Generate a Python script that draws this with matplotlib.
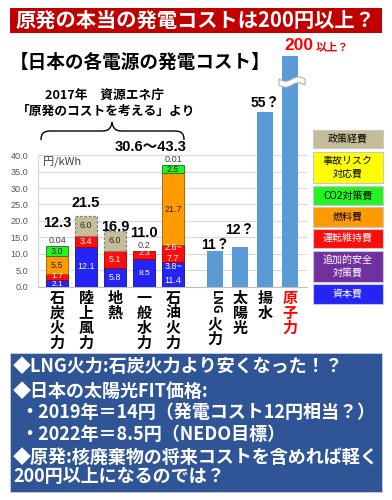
import numpy as np
import matplotlib
matplotlib.use("Agg")
import matplotlib.pyplot as plt
from matplotlib.patches import Rectangle, PathPatch, Polygon
from matplotlib.path import Path
import matplotlib.transforms as mtransforms

plt.rcParams['font.family'] = ['Noto Sans CJK JP', 'DejaVu Sans']

# ---------------- data ----------------
left_categories = ["石炭火力", "陸上風力", "地熱", "一般水力", "石油火力"]
capital_low = [2.1, 12.1, 5.8, 8.5, 3.8]
capital_high = [2.1, 12.1, 5.8, 8.5, 11.4]
om_low = [1.7, 3.4, 5.1, 2.3, 2.6]
om_high = [1.7, 3.4, 5.1, 2.3, 7.7]
fuel = [5.5, 0.0, 0.0, 0.0, 21.7]
co2 = [3.0, 0.0, 0.0, 0.0, 2.5]
policy = [0.04, 6.0, 6.0, 0.2, 0.01]

right_categories = ["LNG火力", "太陽光", "揚水", "原子力"]
right_values = [11, 12, 53, 200]
right_labels = ["11？", "12？", "55？", None]

yticks = [0, 5, 10, 15, 20, 25, 30, 35, 40]

legend_labels = ["政策経費", "事故リスク\n対応費", "CO2対策費", "燃料費",
                 "運転維持費", "追加的安全\n対策費", "資本費"]

# ---------------- style ----------------
C_CAP = "#2424F5"
C_OM = "#FF0D0D"
C_FUEL = "#FF9A00"
C_CO2 = "#22F522"
C_ACC = "#FFFF00"
C_ADD = "#7030A0"
C_POL = "#C4BD97"
C_RIGHT = "#5B9BD5"
legend_colors = [C_POL, C_ACC, C_CO2, C_FUEL, C_OM, C_ADD, C_CAP]
legend_text_colors = ["black", "black", "black", "black", "white", "white", "white"]
legend_boxes = [(130, 148), (152, 183), (186, 205), (207, 227), (229, 248), (251, 282), (284, 304)]

NUM = ['Liberation Sans', 'Noto Sans CJK JP']
CJK = ['Noto Sans CJK JP', 'DejaVu Sans']

fig = plt.figure(figsize=(3.92, 5.0), dpi=100)
fig.patch.set_facecolor("white")

ax_left, ax_right_px, ax_bottom_px, ax_top_px = 38, 307, 286.7, 56.4
ax = fig.add_axes([ax_left / 392, 1 - ax_bottom_px / 500,
                   (ax_right_px - ax_left) / 392, (ax_bottom_px - ax_top_px) / 500])
ax.set_ylim(0, 70)
ax.set_xlim(-0.66, 8.62)

xl = np.arange(len(left_categories), dtype=float)
xr = 5.45 + 0.86 * np.arange(len(right_categories))
wl, wr = 0.76, 0.55

cap_mid = (np.array(capital_low) + np.array(capital_high)) / 2
om_mid = (np.array(om_low) + np.array(om_high)) / 2
fuel_a = np.array(fuel)
co2_a = np.array(co2)
pol_a = np.array(policy)

b0 = np.zeros(len(xl))
ax.bar(xl, cap_mid, wl, bottom=b0, color=C_CAP, edgecolor="#10108A", lw=0.6, zorder=3)
b1 = b0 + cap_mid
ax.bar(xl, om_mid, wl, bottom=b1, color=C_OM, edgecolor="#9A0000", lw=0.6, zorder=3)
b2 = b1 + om_mid
fmask = fuel_a > 0
ax.bar(xl[fmask], fuel_a[fmask], wl, bottom=b2[fmask], color=C_FUEL, edgecolor="#9A5A00", lw=0.6, zorder=3)
b3 = b2 + fuel_a
cmask = co2_a > 0
ax.bar(xl[cmask], co2_a[cmask], wl, bottom=b3[cmask], color=C_CO2, edgecolor="#107A10", lw=0.6, zorder=3)
b4 = b3 + co2_a
pmask = pol_a >= 1
ax.bar(xl[pmask], pol_a[pmask], wl, bottom=b4[pmask], color=C_POL, edgecolor="#7F7F7F",
       lw=0.9, linestyle=(0, (2, 1.5)), zorder=3)
tops = b4 + pol_a

# segment labels
def seg_label(x, y, s, color, size=6.4):
    ax.text(x, y, s, ha="center", va="center", fontsize=size, color=color,
            family=NUM, zorder=4)

dark = "#262626"
for i in range(len(xl)):
    if capital_low[i] == capital_high[i]:
        small = om_mid[i] < 2.5
        sz = 6.0 if small else 6.4
        seg_label(xl[i], cap_mid[i] / 2 - (0.25 if small else 0), f"{capital_low[i]}", "white", sz)
        seg_label(xl[i], b1[i] + om_mid[i] / 2 + (0.3 if small else 0), f"{om_low[i]}", "white", sz)
    else:
        seg_label(xl[i], cap_mid[i] * 0.79, f"{capital_low[i]}~", "white")
        seg_label(xl[i], cap_mid[i] * 0.26, f"{capital_high[i]}", "white")
        seg_label(xl[i], b1[i] + om_mid[i] * 0.82, f"{om_low[i]}~", "white")
        seg_label(xl[i], b1[i] + om_mid[i] * 0.2, f"{om_high[i]}", "white")
    if fuel[i] > 0:
        seg_label(xl[i], b2[i] + fuel[i] / 2, f"{fuel[i]}", dark)
    if co2[i] > 0:
        seg_label(xl[i], b3[i] + co2[i] / 2, f"{co2[i]}", dark)
    if policy[i] >= 1:
        seg_label(xl[i], b4[i] + policy[i] / 2, f"{policy[i]}", dark)
    else:
        ax.text(xl[i], tops[i] + 1.6, f"{policy[i]}", ha="center", va="center",
                fontsize=6.6, color="#404040", family=NUM, zorder=4)

# totals
low_tot = np.array(capital_low) + np.array(om_low) + fuel_a + co2_a + pol_a
high_tot = np.array(capital_high) + np.array(om_high) + fuel_a + co2_a + pol_a
total_offsets = [7.1, 3.8, 1.3, 5.3, 5.5]
for i in range(len(xl)):
    if abs(low_tot[i] - high_tot[i]) < 1e-9:
        ax.text(xl[i], tops[i] + total_offsets[i], f"{low_tot[i]:.1f}", ha="center",
                va="center", fontsize=10.5, weight="bold", family=NUM, zorder=4)
    else:
        ax.text(xl[i] + wl / 2 + 0.08, tops[i] + total_offsets[i],
                f"{low_tot[i]:.1f}～{high_tot[i]:.1f}", ha="right", va="center",
                fontsize=10.5, weight="bold", family=NUM, zorder=4)

# right bars
ax.bar(xr, right_values, wr, color=C_RIGHT, lw=0, zorder=3)
right_offsets = [1.7, 5.2, 2.8]
for i, lab in enumerate(right_labels):
    if lab:
        ax.text(xr[i], right_values[i] + right_offsets[i], lab, ha="center", va="center",
                fontsize=10, weight="bold", family=NUM, zorder=4)

# axes styling
ax.set_yticks(yticks)
ax.set_yticklabels([f"{v:.1f}" for v in yticks], fontsize=6.6, color="#595959", family=NUM)
ax.tick_params(axis="y", length=0, pad=7)
ax.set_xticks([])
ax.yaxis.grid(True, color="#D9D9D9", lw=0.8)
ax.set_axisbelow(True)
for s in ["top", "right"]:
    ax.spines[s].set_visible(False)
ax.spines["left"].set_bounds(0, 40)
ax.spines["left"].set_color("#D9D9D9")
ax.spines["left"].set_linewidth(0.8)
ax.spines["bottom"].set_color("#BFBFBF")
ax.spines["bottom"].set_linewidth(0.8)
ax.patch.set_alpha(0)
ax.text(0.02, 0.94 * 40 / 70 + 0.005, "円/kWh", transform=ax.transAxes, fontsize=8,
        color="#404040", va="center", ha="left")

# ---------------- overlay ----------------
ov = fig.add_axes([0, 0, 1, 1], zorder=5)
ov.set_xlim(0, 392)
ov.set_ylim(500, 0)
ov.axis("off")
ov.set_facecolor("none")

# title banner
ov.add_patch(Rectangle((10, 8), 372, 25, color="#C00000", lw=0))
ov.text(196, 20.5, "原発の本当の発電コストは200円以上？", ha="center", va="center",
        color="white", fontsize=14.6, weight="bold", family=CJK)

ov.text(10, 62, "【日本の各電源の発電コスト】", ha="left", va="center",
        fontsize=13.4, weight="bold", family=CJK)
ov.text(105, 95, "2017年　資源エネ庁", ha="center", va="center",
        fontsize=9.2, weight="bold", family=CJK)
ov.text(106, 111.5, "「原発のコストを考える」より", ha="center", va="center",
        fontsize=9.2, weight="bold", family=CJK)

# brace
verts = [(41, 140), (41, 133), (44, 131), (51, 131), (102, 131),
         (108, 131), (111, 129), (112, 122),
         (113, 129), (116, 131), (122, 131), (174, 131),
         (181, 131), (184, 133), (184, 140)]
codes = [Path.MOVETO, Path.CURVE4, Path.CURVE4, Path.CURVE4, Path.LINETO,
         Path.CURVE4, Path.CURVE4, Path.CURVE4,
         Path.CURVE4, Path.CURVE4, Path.CURVE4, Path.LINETO,
         Path.CURVE4, Path.CURVE4, Path.CURVE4]
ov.add_patch(PathPatch(Path(verts, codes), fill=False, lw=1.0, color="black"))

# 200 label
ov.text(313, 50, "200", ha="right", va="baseline", color="#FF0000", fontsize=12.5,
        weight="bold", family=NUM)
ov.text(316, 50, "以上？", ha="left", va="baseline", color="#FF0000", fontsize=8,
        weight="bold", family=CJK)

# break squiggle on 原子力 bar
xs = np.linspace(279, 305, 40)
top_y = 79 + 2.2 * np.sin((xs - 279) / 26 * 2 * np.pi)
bot_y = top_y + 6
poly = np.vstack([np.column_stack([xs, top_y]), np.column_stack([xs[::-1], bot_y[::-1]])])
ov.add_patch(Polygon(poly, closed=True, facecolor="white", edgecolor="#A6A6A6", lw=0.7))

# x labels (vertical text)
trans = mtransforms.blended_transform_factory(ax.transData, ov.transData)

def vertical_label(x, name, color):
    y = 290
    i = 0
    while i < len(name):
        ch = name[i]
        if ch.isascii():
            j = i
            while j < len(name) and name[j].isascii():
                j += 1
            run = name[i:j]
            h = 8.5 * len(run)
            ov.text(x, y + h / 2, run, transform=trans, rotation=-90, ha="center",
                    va="center", fontsize=8.6, weight="bold", color=color, family=CJK)
            y += h + 1
            i = j
        else:
            ov.text(x, y + 7.5, ch, transform=trans, ha="center", va="center",
                    fontsize=10.8, weight="bold", color=color, family=CJK)
            y += 15
            i += 1

for i, name in enumerate(left_categories):
    vertical_label(xl[i], name, "black")
for i, name in enumerate(right_categories):
    vertical_label(xr[i], name, "#FF0000" if name == "原子力" else "black")

# legend boxes
for lab, col, tcol, (y0, y1) in zip(legend_labels, legend_colors, legend_text_colors, legend_boxes):
    ov.add_patch(Rectangle((313, y0), 70, y1 - y0, facecolor=col, edgecolor="#C8C8C8", lw=0.8))
    ov.text(348, (y0 + y1) / 2, lab, ha="center", va="center", fontsize=7.2, color=tcol,
            family=CJK, linespacing=1.3)

# bottom text box
ov.add_patch(Rectangle((10, 353), 372, 139, facecolor="#2F5597", edgecolor="#D0D0D0", lw=0.6))
lines = [
    (13, 367, "◆LNG火力:石炭火力より安くなった！？"),
    (13, 391, "◆日本の太陽光FIT価格:"),
    (20, 413, "・2019年＝14円（発電コスト12円相当？）"),
    (20, 434, "・2022年＝8.5円（NEDO目標）"),
    (13, 457, "◆原発:核廃棄物の将来コストを含めれば軽く"),
    (13, 477, "200円以上になるのでは？"),
]
for x, y, s in lines:
    ov.text(x, y, s, ha="left", va="center", color="white", fontsize=13,
            weight="bold", family=CJK)

fig.savefig("out.png", dpi=100)
